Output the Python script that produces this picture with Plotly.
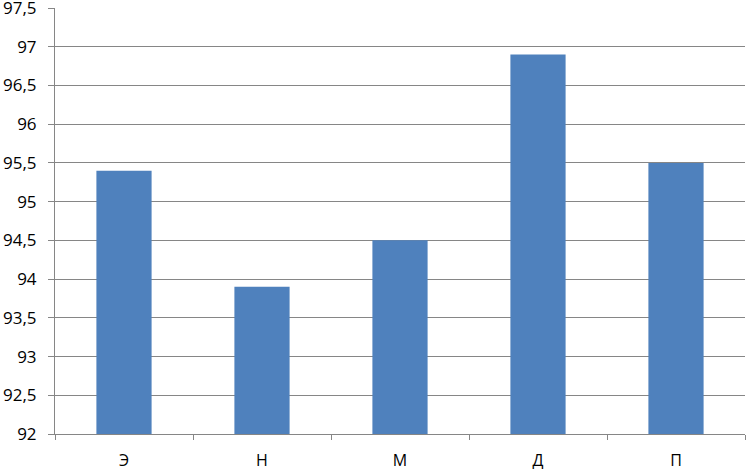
import plotly.graph_objects as go

categories = ["Э", "Н", "М", "Д", "П"]
values = [95.4, 93.9, 94.5, 96.9, 95.5]
y_ticks = [92 + 0.5 * i for i in range(12)]
y_labels = [("%g" % v).replace(".", ",") for v in y_ticks]

fig = go.Figure()
fig.add_trace(go.Bar(x=categories, y=values, marker_color="#4F81BD",
                     marker_line_width=0))

fig.update_layout(
    width=746, height=471,
    margin=dict(l=55, r=1, t=8, b=37),
    plot_bgcolor="white", paper_bgcolor="white",
    bargap=0.6, showlegend=False,
    font=dict(family="Open Sans", size=17, color="black"),
)
fig.update_xaxes(
    showline=True, linecolor="#868686", linewidth=1,
    ticks="outside", tickson="boundaries", ticklen=5, tickcolor="#868686",
    showgrid=False, tickfont=dict(size=16), ticklabelstandoff=12,
    automargin=False,
)
fig.update_yaxes(
    range=[92, 97.5], tickvals=y_ticks, ticktext=y_labels,
    showline=True, linecolor="#868686", linewidth=1,
    ticks="outside", ticklen=6, tickcolor="#868686",
    showgrid=True, gridcolor="#868686", gridwidth=1,
    zeroline=False, ticklabelstandoff=8, ticklabeloverflow="allow",
    tickfont=dict(size=17), automargin=False,
)

fig.write_html("out.html", config={"displayModeBar": False},
               post_script="document.body.style.margin='0';")
